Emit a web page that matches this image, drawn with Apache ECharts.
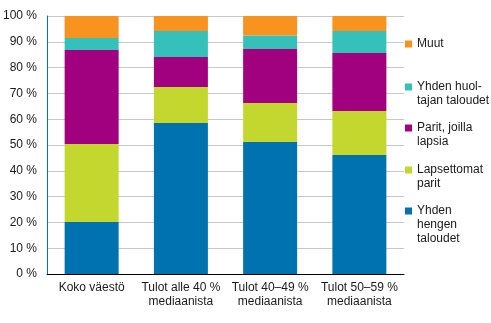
<!DOCTYPE html>
<html><head><meta charset="utf-8">
<script src="https://cdn.jsdelivr.net/npm/echarts@6/dist/echarts.min.js"></script>
<style>html,body{margin:0;padding:0;background:#fff}#c{width:491px;height:323px}</style>
</head><body><div id="c"></div>
<script>
const categories = ["Koko väestö", "Tulot alle 40 %\nmediaanista", "Tulot 40–49 %\nmediaanista", "Tulot 50–59 %\nmediaanista"];
const yhdenHengen = [20.2, 58.5, 51.2, 46.1];
const lapsettomat = [30.2, 14.0, 15.1, 17.1];
const paritLapsia = [36.4, 11.6, 20.9, 22.5];
const yksinhuoltajat = [4.7, 10.1, 5.2, 8.5];
const muut = [8.5, 5.8, 7.6, 5.8];
const seriesNames = ["Yhden hengen taloudet", "Lapsettomat parit", "Parit, joilla lapsia", "Yhden huoltajan taloudet", "Muut"];
const legendLabels = ["Yhden\nhengen\ntaloudet", "Lapsettomat\nparit", "Parit, joilla\nlapsia", "Yhden huol-\ntajan taloudet", "Muut"];
const yTicks = [0, 10, 20, 30, 40, 50, 60, 70, 80, 90, 100];

const colors = ["#0072b0", "#c3d72f", "#a1007e", "#35c1b9", "#f7931e"];
const values = [yhdenHengen, lapsettomat, paritLapsia, yksinhuoltajat, muut];
const font = "'Liberation Sans', Arial, sans-serif";

const legendTops = [211, 170, 128, 87, 44];
const lines = legendLabels.map(l => l.split("\n").length);
const legends = seriesNames.map((n, i) => ({
  data: [n], orient: 'vertical', left: 405, top: legendTops[i] - (2 * lines[i] - 1) * 7,
  padding: 0, itemWidth: 7, itemHeight: 7, icon: 'rect',
  formatter: () => "\n".repeat(lines[i] - 1) + legendLabels[i],
  textStyle: { fontFamily: font, fontSize: 12, color: '#1a1a1a', lineHeight: 14 }
}));

const chart = echarts.init(document.getElementById('c'));
chart.setOption({
  animation: false,
  color: colors,
  legend: legends,
  grid: { left: 46, right: 87, top: 16, bottom: 49, containLabel: false },
  xAxis: {
    type: 'category', data: categories,
    axisLine: { lineStyle: { color: '#000', width: 1 } },
    axisTick: { show: false },
    axisLabel: { fontFamily: font, fontSize: 12, color: '#1a1a1a', lineHeight: 14, margin: 7, interval: 0 }
  },
  yAxis: {
    type: 'value', min: 0, max: 100, interval: 10,
    axisLine: { show: true, lineStyle: { color: '#0072b0', width: 1 } },
    axisTick: { show: false },
    splitLine: { lineStyle: { color: '#c8c8c8', width: 1 } },
    axisLabel: { fontFamily: font, fontSize: 12, color: '#1a1a1a', margin: 10,
      formatter: v => yTicks.includes(v) ? v + ' %' : '' }
  },
  series: seriesNames.map((n, i) => ({
    name: n, type: 'bar', stack: 'total', data: values[i],
    barWidth: 54, itemStyle: { color: colors[i] }
  }))
});
</script></body></html>
